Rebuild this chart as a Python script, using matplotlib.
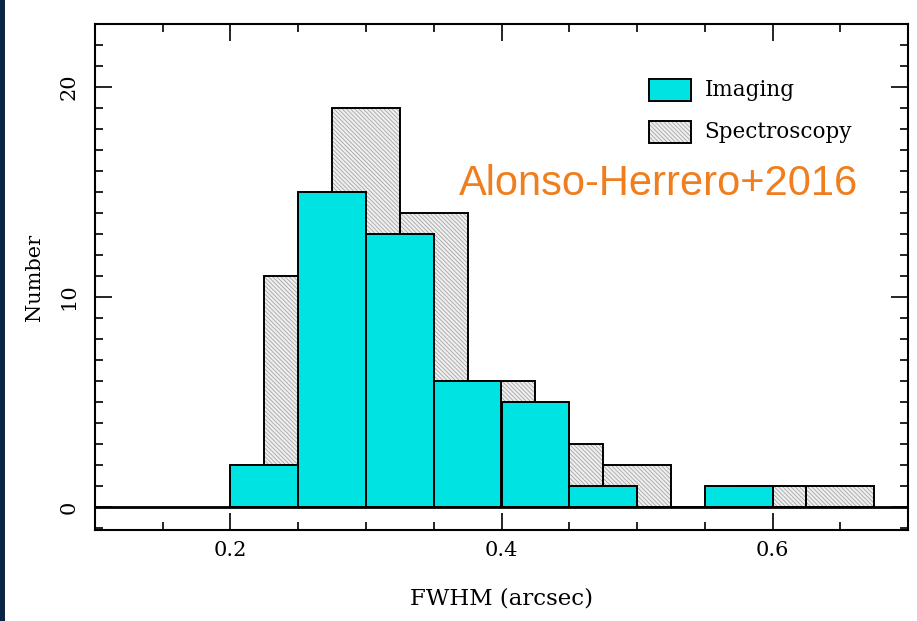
import matplotlib
matplotlib.use("Agg")
import matplotlib.pyplot as plt
from matplotlib.patches import Rectangle
from matplotlib.ticker import MultipleLocator, FixedLocator

# Data
imaging_left = [0.20, 0.25, 0.30, 0.35, 0.40, 0.45, 0.50, 0.55]
imaging_counts = [2, 15, 13, 6, 5, 1, 0, 1]
spec_left = [0.225, 0.275, 0.325, 0.375, 0.425, 0.475, 0.525, 0.575, 0.625]
spec_counts = [11, 19, 14, 6, 3, 2, 0, 1, 1]
bin_width = 0.05
x_ticks = [0.2, 0.4, 0.6]
x_tick_labels = ["0.2", "0.4", "0.6"]
y_ticks = [0, 10, 20]
y_tick_labels = ["0", "10", "20"]

plt.rcParams['font.family'] = ['DejaVu Serif']
plt.rcParams['hatch.linewidth'] = 0.5

fig = plt.figure(figsize=(9.17, 6.21), dpi=100)
fig.patch.set_facecolor('white')
# dark slide strip at left edge
fig.patches.append(Rectangle((0, 0), 5/917, 1, transform=fig.transFigure,
                             facecolor='#0b2545', edgecolor='none', zorder=-1))

ax = fig.add_axes([95/917, 91/621, 813/917, 506/621])

cyan = '#00e3e3'
hatch_fc = '#eeeeee'
hatch_ec = '#9a9a9a'
hatch_pat = '\\' * 8
# spectroscopy: hatched fill then black outline
ax.bar(spec_left, spec_counts, width=bin_width, align='edge',
       facecolor=hatch_fc, edgecolor=hatch_ec, hatch=hatch_pat, lw=0, zorder=1)
ax.bar(spec_left, spec_counts, width=bin_width, align='edge',
       fill=False, edgecolor='black', lw=1.4, zorder=2)
# imaging
ax.bar(imaging_left, imaging_counts, width=bin_width, align='edge',
       facecolor=cyan, edgecolor='black', lw=1.4, zorder=3)

ax.axhline(0, color='black', lw=2.0, zorder=4)

ax.set_xlim(0.1, 0.7)
ax.set_ylim(-1.1, 23)

ax.xaxis.set_major_locator(FixedLocator(x_ticks))
ax.set_xticklabels(x_tick_labels)
ax.xaxis.set_minor_locator(MultipleLocator(0.05))
ax.yaxis.set_major_locator(FixedLocator(y_ticks))
ax.set_yticklabels(y_tick_labels, rotation=90, va='center')
ax.yaxis.set_minor_locator(MultipleLocator(1))

ax.tick_params(which='both', direction='in', top=True, right=True, width=1.2,
               labelsize=15, colors='black')
ax.tick_params(which='major', length=12)
ax.tick_params(which='minor', length=6)
ax.tick_params(axis='x', pad=8)
ax.tick_params(axis='y', pad=12)

for s in ax.spines.values():
    s.set_linewidth(1.5)

ax.set_xlabel('FWHM (arcsec)', fontsize=16.5, labelpad=20)
ax.set_ylabel('Number', fontsize=15, labelpad=11)

# legend drawn manually
ax.add_patch(Rectangle((0.6818, 0.8475), 0.0517, 0.0435, transform=ax.transAxes,
                       facecolor=cyan, edgecolor='black', lw=1.4, zorder=5))
ax.add_patch(Rectangle((0.6818, 0.7645), 0.0517, 0.0435, transform=ax.transAxes,
                       facecolor=hatch_fc, edgecolor=hatch_ec, hatch=hatch_pat, lw=0, zorder=5))
ax.add_patch(Rectangle((0.6818, 0.7645), 0.0517, 0.0435, transform=ax.transAxes,
                       fill=False, edgecolor='black', lw=1.4, zorder=6))
ax.text(0.750, 0.869, 'Imaging', transform=ax.transAxes, fontsize=15.5,
        va='center', ha='left')
ax.text(0.750, 0.786, 'Spectroscopy', transform=ax.transAxes, fontsize=15.5,
        va='center', ha='left')

ax.text(0.9385, 0.662, 'Alonso-Herrero+2016', transform=ax.transAxes,
        fontsize=30, color='#f07e1e', family='Liberation Sans',
        ha='right', va='baseline')

fig.savefig('out.png', dpi=100)
